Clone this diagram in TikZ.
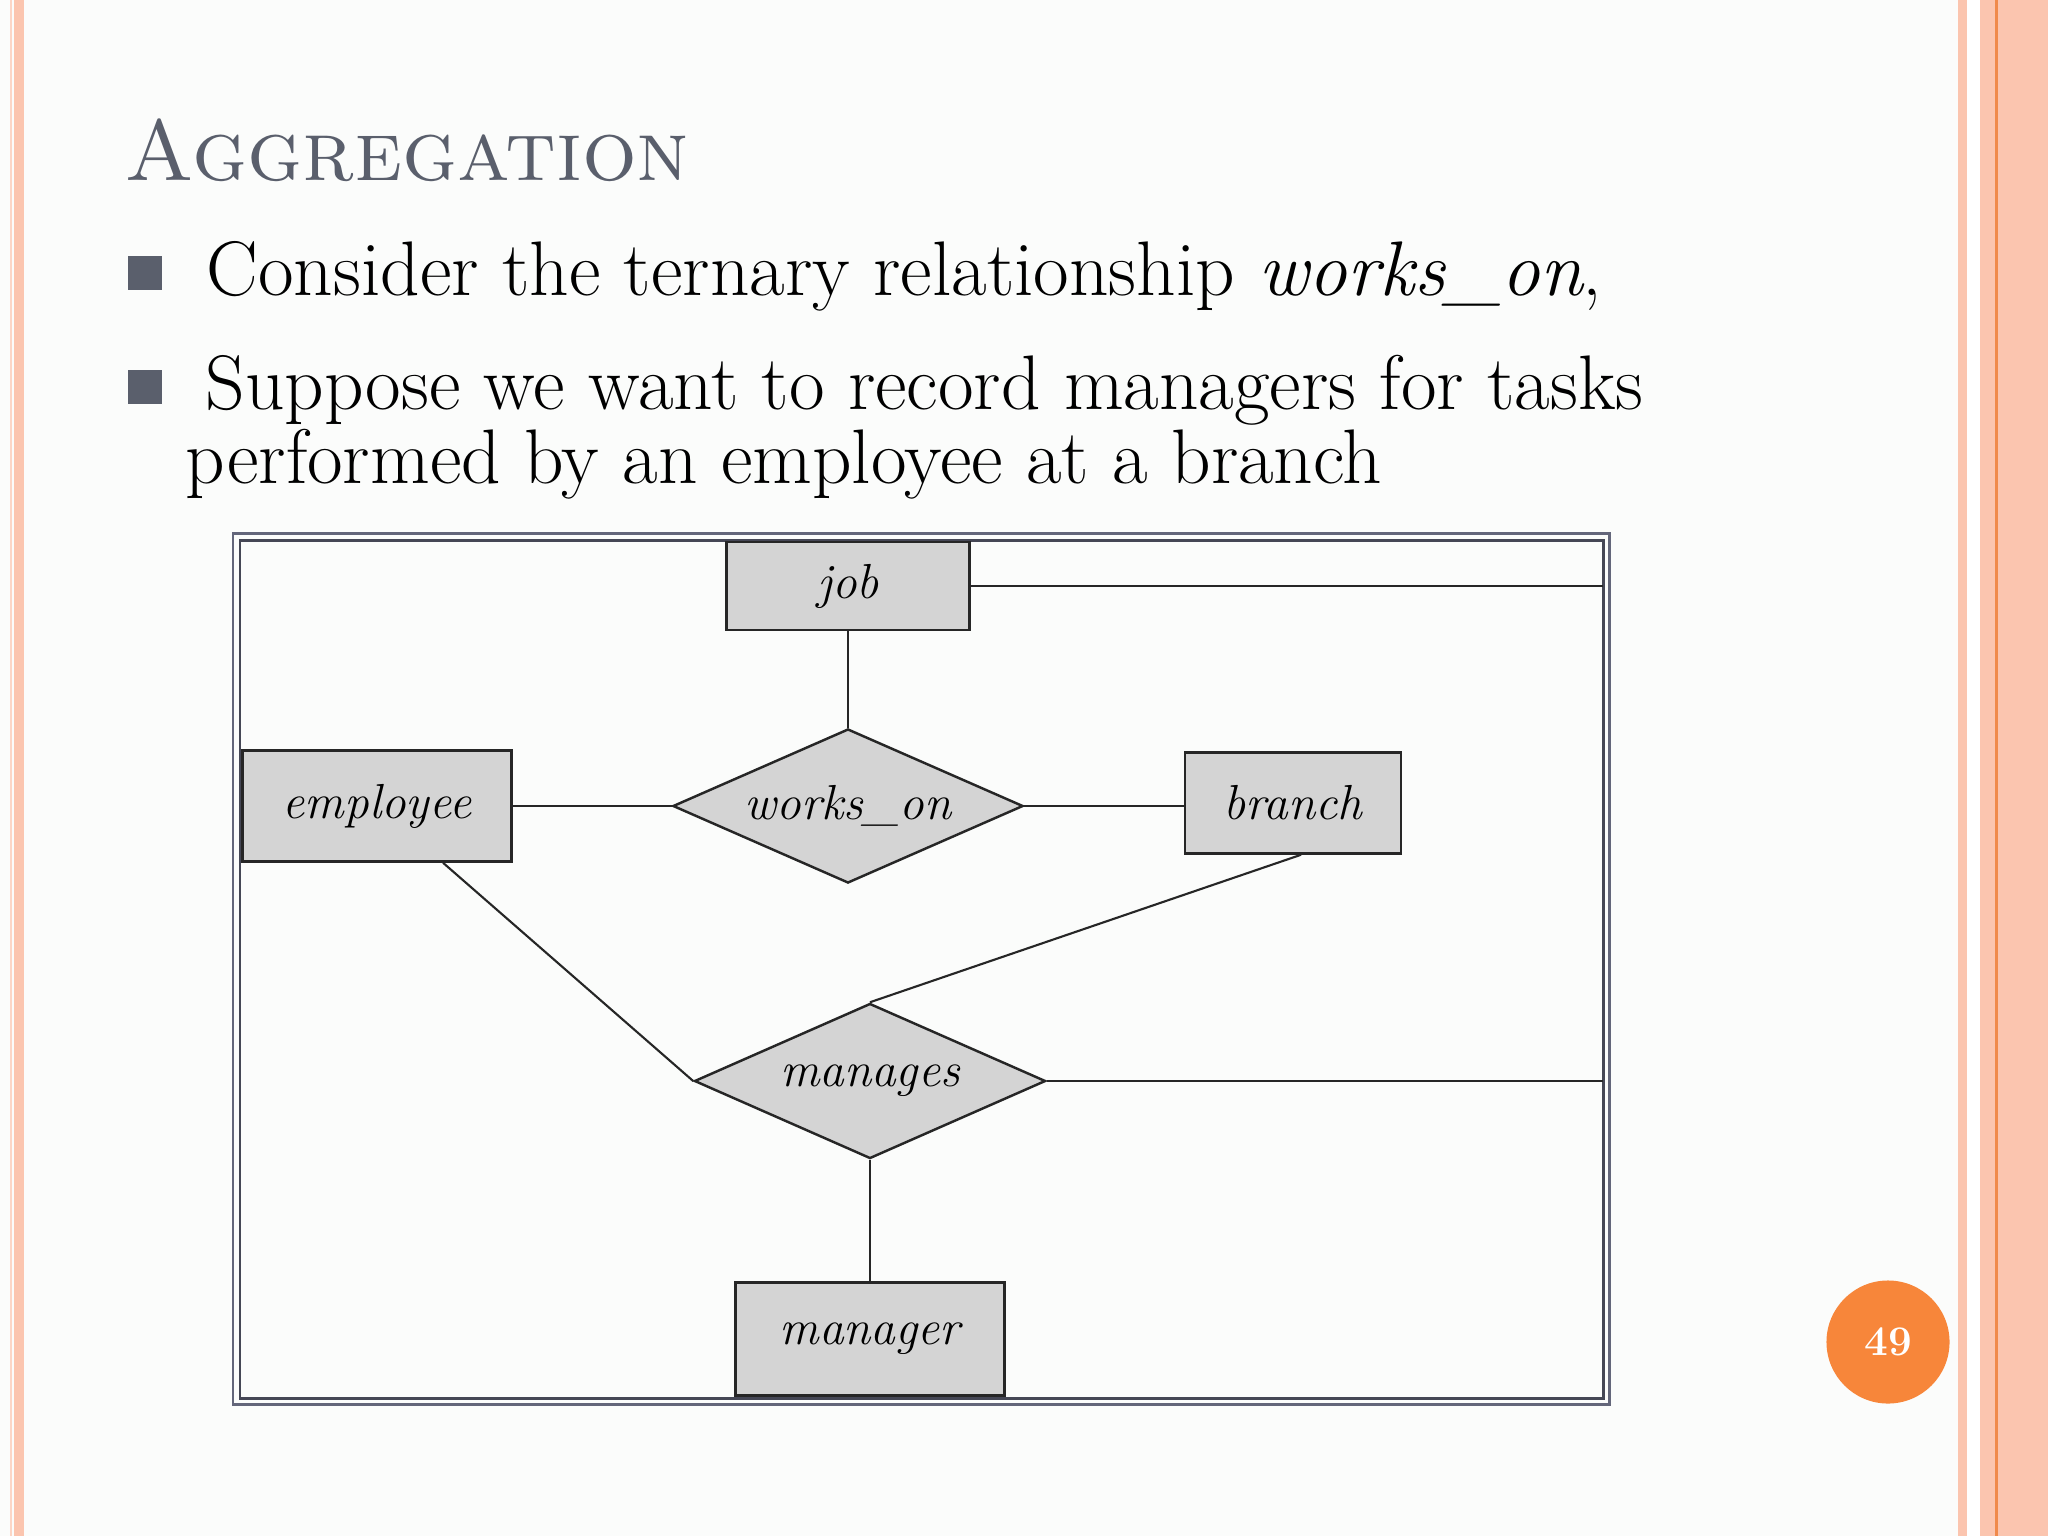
\documentclass[tikz,border=0pt]{standalone}
\usepackage{fontspec}
\usepackage{xcolor}
\usetikzlibrary{positioning, shapes, calc}

\definecolor{slidebg}{HTML}{FBFCFB}
\definecolor{salmon}{HTML}{FBC5AF}
\definecolor{salmonlt}{HTML}{FCD6C6}
\definecolor{stripe}{HTML}{F08A4B}
\definecolor{titlegray}{HTML}{5A5F6C}
\definecolor{framegray}{HTML}{63667A}
\definecolor{boxgray}{HTML}{D4D4D4}
\definecolor{pageorange}{HTML}{F7863A}

\tikzset{
  entity/.style={draw=black!85, line width=0.7pt, fill=boxgray, inner sep=0pt,
    font=\fontsize{14}{16}\selectfont\itshape},
  relation/.style={diamond, aspect=2.27, draw=black!85, line width=0.7pt, fill=boxgray,
    inner sep=0pt, font=\fontsize{14}{16}\selectfont\itshape},
  link/.style={line width=0.6pt, black!85},
  bodytext/.style={anchor=base west, inner sep=0pt, font=\fontsize{22}{26}\selectfont},
}

\begin{document}
\begin{tikzpicture}[x=0.01cm, y=-0.01cm]
  \useasboundingbox (0,0) rectangle (2048,1536);
  \fill[slidebg] (0,0) rectangle (2048,1536);
  \fill[white] (1967,0) rectangle (1980,1536);
  \foreach \xa/\xb/\col in {10/12/salmonlt, 14/24/salmon, 1958/1967/salmon, 1980/1995/salmon, 1995/1998/stripe, 1998/2048/salmon} {
    \fill[\col] (\xa,0) rectangle (\xb,1536);
  }

  \node[anchor=base west, inner sep=0pt, text=titlegray, font=\fontsize{24.5}{30}\selectfont] (title) at (124,180) {\textsc{Aggregation}};

  \foreach \ya in {256, 370} {
    \fill[titlegray] (128,\ya) rectangle (162,\ya+34);
  }
  \node[bodytext] (line1) at (206,295) {Consider the ternary relationship \textit{works\_on},};
  \node[bodytext] (line2) at (205,409) {Suppose we want to record managers for tasks};
  \node[bodytext] (line3) at (185,483) {performed by an employee at a branch};

  \draw[framegray, line width=0.85pt] (233,533) rectangle (1609,1404);
  \draw[framegray!70!black, line width=0.85pt] (240,540) rectangle (1603,1398);

  \node[entity, minimum width=2.43cm, minimum height=0.88cm] (job) at (848,586) {job};
  \node[relation, minimum width=3.5cm, minimum height=1.54cm] (workson) at (848,806) {works\_on};
  \node[entity, minimum width=2.69cm, minimum height=1.11cm] (employee) at (377,806) {employee};
  \node[entity, minimum width=2.16cm, minimum height=1.01cm] (branch) at (1293,803) {branch};
  \node[relation, minimum width=3.51cm, minimum height=1.55cm] (manages) at (870,1081) {manages};
  \node[entity, minimum width=2.69cm, minimum height=1.13cm] (manager) at (870,1339) {manager};

  \coordinate (jobEnd) at (1603,586);
  \coordinate (managesEnd) at (1603,1081);
  \draw[link] (job.east) -- (jobEnd);
  \draw[link] (job.south) -- (workson.north);
  \draw[link] (employee.east) -- (workson.west);
  \draw[link] (workson.east) -- (workson.east -| branch.west);
  \draw[link] ([xshift=0.66cm]employee.south) -- (manages.west);
  \draw[link] ([xshift=0.08cm]branch.south) -- (manages.north);
  \draw[link] (manages.east) -- (managesEnd);
  \draw[link] (manages.south) -- (manager.north);

  \node[circle, fill=pageorange, minimum size=1.23cm, inner sep=0pt, text=white,
    font=\fontsize{12}{14}\selectfont\bfseries] (page) at (1888,1342) {49};
\end{tikzpicture}
\end{document}
